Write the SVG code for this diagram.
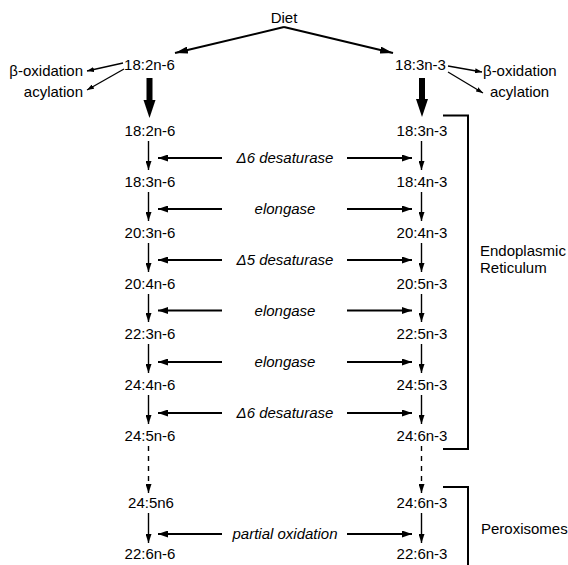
<svg xmlns="http://www.w3.org/2000/svg" width="568" height="565" viewBox="0 0 568 565">
<style>
text{font-family:"Liberation Sans",Arial,sans-serif;font-size:15px;fill:#000}
.m{text-anchor:middle}
.e{text-anchor:end}
.i{font-style:italic}
.c line,.c polyline{stroke:#000;fill:none}
.c polygon{fill:#000;stroke:none}
.v{stroke-width:1.4}
.h{stroke-width:2}
.d{stroke-width:1.4;stroke-dasharray:5 5}
</style>
<defs>
<marker id="ah" markerUnits="userSpaceOnUse" markerWidth="10" markerHeight="7" refX="10" refY="3.5" orient="auto"><path d="M0,0 L10,3.5 L0,7 z" fill="#000"/></marker>
<marker id="av" markerUnits="userSpaceOnUse" markerWidth="9" markerHeight="6" refX="9" refY="3" orient="auto"><path d="M0,0 L9,3 L0,6 z" fill="#000"/></marker>
<marker id="ad" markerUnits="userSpaceOnUse" markerWidth="13" markerHeight="7" refX="13" refY="3.5" orient="auto"><path d="M0,0 L13,3.5 L0,7 z" fill="#000"/></marker>
<marker id="as" markerUnits="userSpaceOnUse" markerWidth="7" markerHeight="5" refX="7" refY="2.5" orient="auto"><path d="M0,0 L7,2.5 L0,5 z" fill="#000"/></marker>
</defs>

<g id="connectors" class="c">
<line class="h" x1="284" y1="27" x2="175" y2="53" marker-end="url(#ad)"/>
<line class="h" x1="284" y1="27" x2="393" y2="53" marker-end="url(#ad)"/>
<line stroke-width="1.3" x1="123" y1="63" x2="87" y2="71" marker-end="url(#as)"/>
<line stroke-width="1.3" x1="124" y1="69" x2="87" y2="90" marker-end="url(#as)"/>
<line stroke-width="1.3" x1="448" y1="66" x2="482" y2="72" marker-end="url(#as)"/>
<line stroke-width="1.3" x1="448" y1="72" x2="483" y2="93" marker-end="url(#as)"/>
<line stroke-width="6" x1="149.5" y1="78" x2="149.5" y2="101"/>
<polygon points="143.5,100 155.5,100 149.5,118"/>
<line stroke-width="6" x1="422" y1="78" x2="422" y2="100"/>
<polygon points="416,99 428,99 422,117"/>
<!-- vertical left -->
<line class="v" x1="148.5" y1="141" x2="148.5" y2="170" marker-end="url(#av)"/>
<line class="v" x1="148.5" y1="192" x2="148.5" y2="221" marker-end="url(#av)"/>
<line class="v" x1="148.5" y1="243" x2="148.5" y2="272" marker-end="url(#av)"/>
<line class="v" x1="148.5" y1="294" x2="148.5" y2="322" marker-end="url(#av)"/>
<line class="v" x1="148.5" y1="344" x2="148.5" y2="373" marker-end="url(#av)"/>
<line class="v" x1="148.5" y1="395" x2="148.5" y2="424" marker-end="url(#av)"/>
<line class="d" x1="148.5" y1="446" x2="148.5" y2="485"/>
<line class="v" x1="148.5" y1="484" x2="148.5" y2="493" marker-end="url(#av)"/>
<line class="v" x1="148.5" y1="513" x2="148.5" y2="543" marker-end="url(#av)"/>
<!-- vertical right -->
<line class="v" x1="421.5" y1="141" x2="421.5" y2="170" marker-end="url(#av)"/>
<line class="v" x1="421.5" y1="192" x2="421.5" y2="221" marker-end="url(#av)"/>
<line class="v" x1="421.5" y1="243" x2="421.5" y2="272" marker-end="url(#av)"/>
<line class="v" x1="421.5" y1="294" x2="421.5" y2="322" marker-end="url(#av)"/>
<line class="v" x1="421.5" y1="344" x2="421.5" y2="373" marker-end="url(#av)"/>
<line class="v" x1="421.5" y1="395" x2="421.5" y2="424" marker-end="url(#av)"/>
<line class="d" x1="421.5" y1="446" x2="421.5" y2="485"/>
<line class="v" x1="421.5" y1="484" x2="421.5" y2="493" marker-end="url(#av)"/>
<line class="v" x1="421.5" y1="513" x2="421.5" y2="543" marker-end="url(#av)"/>
<!-- horizontal -->
<line class="h" x1="222" y1="158" x2="158" y2="158" marker-end="url(#ah)"/>
<line class="h" x1="347" y1="158" x2="412" y2="158" marker-end="url(#ah)"/>
<line class="h" x1="222" y1="209" x2="158" y2="209" marker-end="url(#ah)"/>
<line class="h" x1="347" y1="209" x2="412" y2="209" marker-end="url(#ah)"/>
<line class="h" x1="222" y1="260" x2="158" y2="260" marker-end="url(#ah)"/>
<line class="h" x1="347" y1="260" x2="412" y2="260" marker-end="url(#ah)"/>
<line class="h" x1="222" y1="310.5" x2="158" y2="310.5" marker-end="url(#ah)"/>
<line class="h" x1="347" y1="310.5" x2="412" y2="310.5" marker-end="url(#ah)"/>
<line class="h" x1="222" y1="362" x2="158" y2="362" marker-end="url(#ah)"/>
<line class="h" x1="347" y1="362" x2="412" y2="362" marker-end="url(#ah)"/>
<line class="h" x1="222" y1="413" x2="158" y2="413" marker-end="url(#ah)"/>
<line class="h" x1="347" y1="413" x2="412" y2="413" marker-end="url(#ah)"/>
<line class="h" x1="222" y1="534" x2="158" y2="534" marker-end="url(#ah)"/>
<line class="h" x1="347" y1="534" x2="412" y2="534" marker-end="url(#ah)"/>
<!-- brackets -->
<polyline class="h" points="443,115.5 468,115.5 468,449 443,449"/>
<polyline class="h" points="443,487 468,487 468,565"/>
</g>

<g id="diet"><text class="m" x="284" y="23">Diet</text></g>
<g id="la-top"><text class="m" x="149.5" y="70">18:2n-6</text></g>
<g id="ln-top"><text class="m" x="420.5" y="70">18:3n-3</text></g>
<g id="beta-left"><text class="e" x="83" y="76">β-oxidation</text></g>
<g id="acyl-left"><text class="e" x="83" y="97">acylation</text></g>
<g id="beta-right"><text x="483" y="76">β-oxidation</text></g>
<g id="acyl-right"><text x="490" y="97">acylation</text></g>

<g id="n6-col">
<text class="m" x="150" y="136">18:2n-6</text>
<text class="m" x="150" y="187">18:3n-6</text>
<text class="m" x="150" y="238">20:3n-6</text>
<text class="m" x="150" y="289">20:4n-6</text>
<text class="m" x="150" y="339">22:3n-6</text>
<text class="m" x="150" y="390">24:4n-6</text>
<text class="m" x="150" y="441">24:5n-6</text>
<text class="m" x="151" y="508">24:5n6</text>
<text class="m" x="150" y="559">22:6n-6</text>
</g>
<g id="n3-col">
<text class="m" x="422" y="136">18:3n-3</text>
<text class="m" x="422" y="187">18:4n-3</text>
<text class="m" x="422" y="238">20:4n-3</text>
<text class="m" x="422" y="289">20:5n-3</text>
<text class="m" x="422" y="339">22:5n-3</text>
<text class="m" x="422" y="390">24:5n-3</text>
<text class="m" x="422" y="441">24:6n-3</text>
<text class="m" x="422" y="508">24:6n-3</text>
<text class="m" x="422" y="559">22:6n-3</text>
</g>
<g id="enzymes">
<text class="m i" x="285" y="163">Δ6 desaturase</text>
<text class="m i" x="285" y="214">elongase</text>
<text class="m i" x="285" y="265">Δ5 desaturase</text>
<text class="m i" x="285" y="315.5">elongase</text>
<text class="m i" x="285" y="367">elongase</text>
<text class="m i" x="285" y="418">Δ6 desaturase</text>
<text class="m i" x="285" y="539">partial oxidation</text>
</g>
<g id="er"><text x="480" y="255.5">Endoplasmic</text><text x="480" y="272.5">Reticulum</text></g>
<g id="perox"><text x="481" y="534">Peroxisomes</text></g>
</svg>
